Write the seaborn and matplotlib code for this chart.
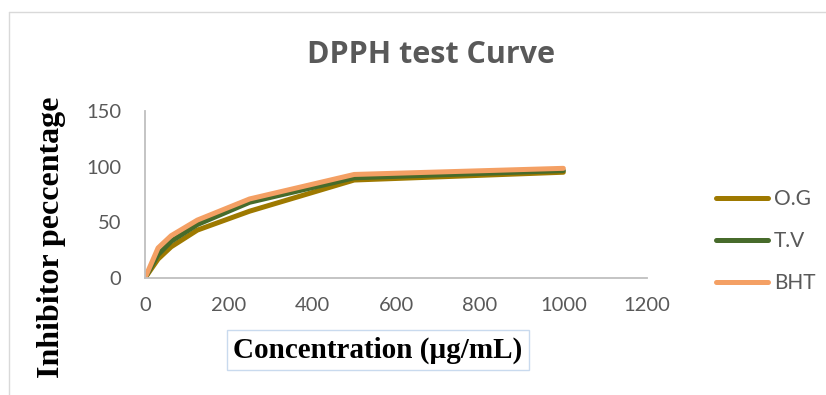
import matplotlib
matplotlib.use("Agg")
import matplotlib.pyplot as plt
import seaborn as sns
import pandas as pd
from matplotlib.lines import Line2D

concentration = [0, 31.25, 62.5, 125, 250, 500, 1000]
og_values = [0, 17, 28, 43, 60, 88, 95]
tv_values = [0, 21, 33, 48, 68, 90, 96.5]
bht_values = [0, 27, 38, 52, 71, 93, 98.5]
series_names = ["O.G", "T.V", "BHT"]
x_ticks = [0, 200, 400, 600, 800, 1000, 1200]
y_ticks = [0, 50, 100, 150]

colors = {"O.G": "#9E7900", "T.V": "#476B2B", "BHT": "#F4A064"}

rows = []
for name, vals in zip(series_names, [og_values, tv_values, bht_values]):
    for c, v in zip(concentration, vals):
        rows.append({"Concentration": c, "Value": v, "Series": name})
df = pd.DataFrame(rows)

sns.set_theme(style="white")
plt.rcParams['font.family'] = ['Lato', 'DejaVu Sans']

fig = plt.figure(figsize=(8.26, 3.95), dpi=100)
ax = fig.add_axes([145/826, 1-278/395, (647-145)/826, (278-111)/395])

sns.lineplot(data=df, x="Concentration", y="Value", hue="Series",
             hue_order=series_names, palette=colors, linewidth=3.6,
             ax=ax, legend=False, sort=False)

ax.set_xlim(0, 1200)
ax.set_ylim(0, 150)
ax.set_xticks(x_ticks)
ax.set_yticks(y_ticks)
ax.tick_params(axis='x', colors='#BFBFBF', labelcolor='#595959', labelsize=14.5,
               length=5, width=1.2, direction='out', pad=9)
ax.tick_params(axis='y', colors='#BFBFBF', labelcolor='#595959', labelsize=14.5,
               length=5, width=1.2, direction='out', pad=12)
for s in ['top', 'right']:
    ax.spines[s].set_visible(False)
for s in ['left', 'bottom']:
    ax.spines[s].set_color('#BFBFBF')
    ax.spines[s].set_linewidth(1.3)

ax.set_xlabel("")
ax.set_ylabel("")

fig.text(431/826, 1-55/395, "DPPH test Curve", ha='center', va='center',
         fontsize=22, fontweight='bold', color='#595959', family=['Open Sans', 'DejaVu Sans'])

fig.text(378/826, 1-350/395, "Concentration (µg/mL)", ha='center', va='center',
         fontsize=21, fontweight='bold', color='black', family=['Liberation Serif', 'DejaVu Serif'],
         bbox=dict(boxstyle='square,pad=0.22', facecolor='white', edgecolor='#C9DAEE', linewidth=1))

fig.text(51/826, 1-237/395, "Inhibitor peccentage", ha='center', va='center', rotation=90,
         fontsize=23, fontweight='bold', color='black', family=['Liberation Serif', 'DejaVu Serif'])

handles = [Line2D([0], [0], color=colors[n], linewidth=3.6, solid_capstyle='round') for n in series_names]
leg = fig.legend(handles, series_names, loc='center left', bbox_to_anchor=(697/826, 1-241/395),
                 frameon=False, fontsize=15, handlelength=2.5, handletextpad=0.3,
                 labelspacing=1.05)
for t in leg.get_texts():
    t.set_color('#595959')

# outer chart frame (left and top edges visible)
fig.add_artist(Line2D([9/826, 9/826], [0, 1-12/395], transform=fig.transFigure, color='#D9D9D9', linewidth=1))
fig.add_artist(Line2D([9/826, 1], [1-12/395, 1-12/395], transform=fig.transFigure, color='#D9D9D9', linewidth=1))

fig.savefig("out.png", dpi=100)
